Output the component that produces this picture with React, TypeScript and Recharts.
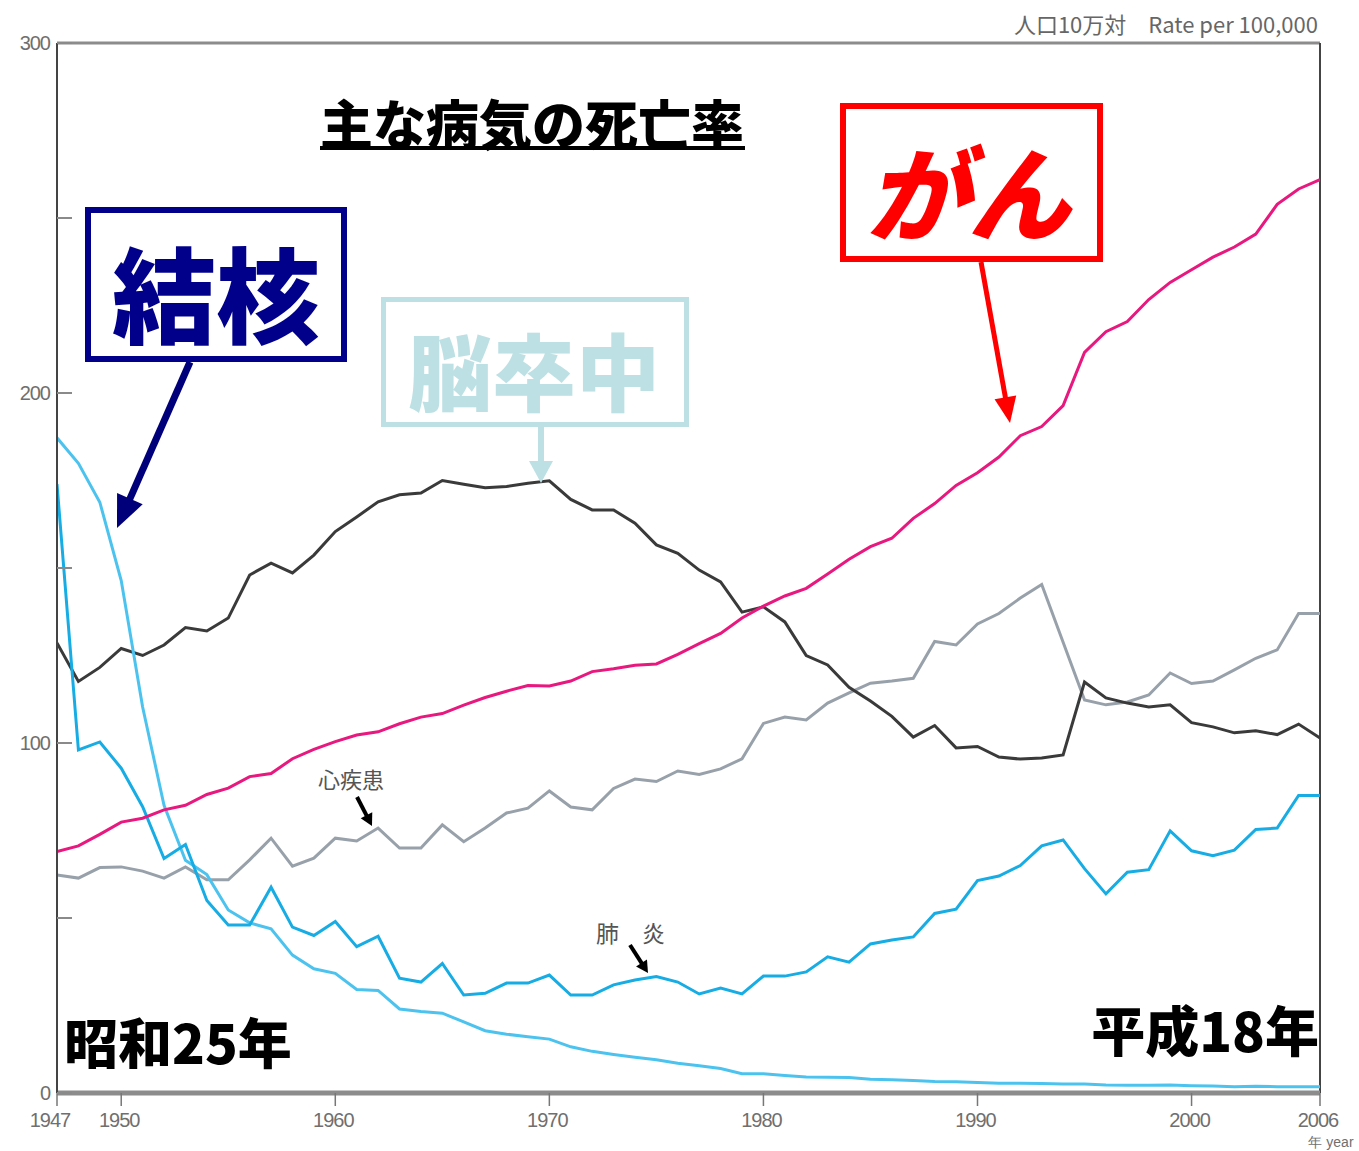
import React from 'react';
import { LineChart, Line, XAxis, YAxis, ReferenceLine } from 'recharts';

const years = [
  1947, 1948, 1949, 1950, 1951, 1952, 1953, 1954, 1955, 1956,
  1957, 1958, 1959, 1960, 1961, 1962, 1963, 1964, 1965, 1966,
  1967, 1968, 1969, 1970, 1971, 1972, 1973, 1974, 1975, 1976,
  1977, 1978, 1979, 1980, 1981, 1982, 1983, 1984, 1985, 1986,
  1987, 1988, 1989, 1990, 1991, 1992, 1993, 1994, 1995, 1996,
  1997, 1998, 1999, 2000, 2001, 2002, 2003, 2004, 2005, 2006,
];

// がん (cancer)
const cancer = [
  69.0, 70.6, 73.9, 77.4, 78.5, 80.9, 82.2, 85.3, 87.1, 90.4,
  91.3, 95.5, 98.2, 100.4, 102.3, 103.2, 105.5, 107.4, 108.4, 110.8,
  113.0, 114.8, 116.4, 116.3, 117.7, 120.4, 121.2, 122.2, 122.6, 125.3,
  128.4, 131.3, 135.7, 139.1, 142.0, 144.2, 148.3, 152.5, 156.1, 158.5,
  164.2, 168.4, 173.6, 177.2, 181.7, 187.8, 190.4, 196.4, 211.6, 217.5,
  220.4, 226.7, 231.6, 235.2, 238.8, 241.7, 245.4, 253.9, 258.3, 261.0,
];

// 脳卒中 (cerebrovascular)
const stroke = [
  128.6, 117.6, 121.6, 127.0, 125.0, 128.0, 133.0, 132.0, 135.7, 148.0,
  151.4, 148.6, 153.7, 160.4, 164.6, 168.9, 170.9, 171.4, 175.0, 173.9,
  172.9, 173.3, 174.2, 174.9, 169.6, 166.6, 166.6, 162.8, 156.6, 154.2,
  149.4, 146.0, 137.4, 138.9, 134.6, 125.0, 122.3, 115.9, 112.0, 107.6,
  101.7, 105.0, 98.6, 99.0, 96.0, 95.4, 95.7, 96.6, 117.4, 112.9,
  111.4, 110.3, 110.9, 105.8, 104.6, 102.9, 103.5, 102.4, 105.4, 101.4,
];

// 心疾患 (heart disease)
const heart = [
  62.3, 61.4, 64.4, 64.6, 63.4, 61.4, 64.6, 60.9, 60.9, 66.6,
  72.8, 64.8, 67.1, 72.8, 72.0, 75.7, 70.0, 70.0, 76.6, 71.8,
  75.7, 80.0, 81.4, 86.3, 81.7, 80.9, 87.0, 89.7, 89.0, 92.0,
  91.0, 92.6, 95.5, 105.6, 107.4, 106.6, 111.4, 114.3, 117.1, 117.7,
  118.5, 129.0, 128.0, 134.0, 137.0, 141.4, 145.3, 128.8, 112.3, 110.9,
  111.7, 113.7, 120.0, 117.0, 117.7, 120.9, 124.2, 126.6, 137.0, 137.0,
];

// 結核 (tuberculosis)
const tb = [
  187.2, 179.9, 168.8, 146.4, 110.3, 82.2, 66.5, 62.4, 52.3, 48.6,
  46.9, 39.4, 35.5, 34.2, 29.6, 29.3, 24.0, 23.3, 22.8, 20.3,
  17.8, 16.8, 16.1, 15.4, 13.2, 11.9, 11.0, 10.2, 9.5, 8.5,
  7.8, 7.0, 5.5, 5.5, 5.0, 4.6, 4.5, 4.4, 3.9, 3.8,
  3.6, 3.3, 3.2, 3.0, 2.8, 2.8, 2.7, 2.6, 2.6, 2.3,
  2.2, 2.2, 2.3, 2.1, 2.0, 1.8, 1.9, 1.8, 1.8, 1.8,
];

// 肺炎 (pneumonia)
const pneumonia = [
  174.0, 98.0, 100.3, 92.8, 81.8, 67.0, 71.0, 55.0, 48.0, 48.0,
  58.8, 47.4, 45.0, 49.0, 41.8, 44.8, 32.8, 31.7, 37.0, 28.0,
  28.5, 31.4, 31.4, 33.7, 28.0, 28.0, 30.9, 32.3, 33.3, 31.7,
  28.3, 30.0, 28.3, 33.4, 33.4, 34.6, 38.9, 37.4, 42.6, 43.7,
  44.6, 51.3, 52.5, 60.7, 62.0, 65.0, 70.6, 72.3, 64.1, 56.9,
  63.1, 63.8, 74.9, 69.2, 67.8, 69.4, 75.3, 75.7, 85.0, 85.0,
];

const xTicks = [1947, 1950, 1960, 1970, 1980, 1990, 2000, 2006];
const yTicks = [0, 50, 100, 150, 200, 250, 300];
const yLabelled = [0, 100, 200, 300];

const data = years.map((year, i) => ({
  year,
  cancer: cancer[i],
  stroke: stroke[i],
  heart: heart[i],
  tb: tb[i],
  pneumonia: pneumonia[i],
}));

const W = 1359;
const H = 1151;
const MARGIN = { top: 43, right: 39, bottom: 0, left: 0 };
const Y_AXIS_W = 57;
const X_AXIS_H = 58;
const PLOT_LEFT = MARGIN.left + Y_AXIS_W;

const latin = "'Liberation Sans', Arial, sans-serif";
const heavy = "'Noto Sans CJK JP', 'Noto Sans CJK SC', sans-serif";

const YTick = (props: any) => {
  const { y, payload } = props;
  const v = payload.value;
  return (
    <g>
      <line x1={PLOT_LEFT} x2={PLOT_LEFT + 15} y1={y} y2={y} stroke="#8a8a8a" strokeWidth={2} />
      {yLabelled.includes(v) ? (
        <text x={PLOT_LEFT - 7} y={y} dy={7} textAnchor="end" fontSize={20} fill="#6f6f6f" fontFamily={latin} letterSpacing={-1}>
          {v}
        </text>
      ) : null}
    </g>
  );
};

const XTick = (props: any) => {
  const { x, y, payload } = props;
  const v = payload.value;
  return (
    <g>
      <text x={v === 1947 ? x - 7 : x - 2} y={y} dy={19} textAnchor="middle" fontSize={20} fill="#6f6f6f" fontFamily={latin} letterSpacing={-1}>
        {v}
      </text>
      {v === 2006 ? (
        <text x={x + 11} y={y} dy={39} textAnchor="middle" fontSize={14} fill="#6f6f6f" fontFamily={latin}>
          年 year
        </text>
      ) : null}
    </g>
  );
};

const Arrow = ({ x1, y1, x2, y2, color, width, headLen, headW }: any) => {
  const dx = x2 - x1;
  const dy = y2 - y1;
  const len = Math.sqrt(dx * dx + dy * dy);
  const ux = dx / len;
  const uy = dy / len;
  const bx = x2 - ux * headLen;
  const by = y2 - uy * headLen;
  const px = -uy;
  const py = ux;
  const pts = `${x2},${y2} ${bx + px * headW / 2},${by + py * headW / 2} ${bx - px * headW / 2},${by - py * headW / 2}`;
  return (
    <g>
      <line x1={x1} y1={y1} x2={bx + ux * 2} y2={by + uy * 2} stroke={color} strokeWidth={width} />
      <polygon points={pts} fill={color} />
    </g>
  );
};

const Overlay = () => (
  <svg width={W} height={H} style={{ position: 'absolute', left: 0, top: 0, pointerEvents: 'none' }}>
    {/* top-right unit */}
    <text x={1318} y={33} textAnchor="end" fontSize={22} fill="#666" fontFamily={`${heavy}`}>
      人口10万対　Rate per 100,000
    </text>

    {/* title */}
    <text x={532} y={145} textAnchor="middle" fontSize={53} fontWeight={900} fill="#000" fontFamily={heavy}>
      主な病気の死亡率
    </text>
    <rect x={320} y={146} width={425} height={4} fill="#000" />

    {/* 結核 */}
    <rect x={88} y={210} width={256} height={149} fill="none" stroke="#00008B" strokeWidth={6} />
    <text x={216} y={290} textAnchor="middle" dominantBaseline="central" fontSize={104} fontWeight={900} fill="#00008B" fontFamily={heavy}>
      結核
    </text>
    <Arrow x1={190} y1={362} x2={117} y2={528} color="#00007A" width={7} headLen={32} headW={28} />

    {/* 脳卒中 */}
    <rect x={383.5} y={299.5} width={303} height={125} fill="none" stroke="#BCE0E3" strokeWidth={5} />
    <text x={534} y={368} textAnchor="middle" dominantBaseline="central" fontSize={84} fontWeight={900} fill="#BCE0E3" fontFamily={heavy}>
      脳卒中
    </text>
    <Arrow x1={541} y1={427} x2={541} y2={483} color="#BCE0E3" width={6} headLen={22} headW={24} />

    {/* がん */}
    <rect x={843} y={106} width={257} height={153} fill="none" stroke="#FF0000" strokeWidth={6} />
    <text x={968} y={188} textAnchor="middle" dominantBaseline="central" fontSize={102} fontWeight={900} fill="#FF0000" fontFamily={heavy} fontStyle="italic">
      がん
    </text>
    <Arrow x1={981} y1={262} x2={1010} y2={423} color="#FF0000" width={5} headLen={26} headW={22} />

    {/* 心疾患 */}
    <text x={318} y={788} fontSize={22} fill="#555" fontFamily={heavy}>
      心疾患
    </text>
    <Arrow x1={357} y1={797} x2={372} y2={826} color="#000" width={4} headLen={12} headW={13} />

    {/* 肺炎 */}
    <text x={596} y={942} fontSize={23} fill="#555" fontFamily={heavy}>
      肺　炎
    </text>
    <Arrow x1={630} y1={945} x2={648} y2={973} color="#000" width={4} headLen={12} headW={13} />

    {/* era labels */}
    <text x={64} y={1064} fontSize={54} fontWeight={900} fill="#000" fontFamily={heavy}>
      昭和25年
    </text>
    <text x={1319} y={1052} textAnchor="end" fontSize={54} fontWeight={900} fill="#000" fontFamily={heavy}>
      平成18年
    </text>
  </svg>
);

export default function App() {
  return (
    <div style={{ position: 'absolute', left: 0, top: 0, width: W, height: H, background: '#fff' }}>
      <LineChart width={W} height={H} data={data} margin={MARGIN}>
        <XAxis
          dataKey="year"
          type="number"
          domain={[1947, 2006]}
          ticks={xTicks}
          interval={0}
          height={X_AXIS_H}
          axisLine={{ stroke: '#8c8c8c', strokeWidth: 5 }}
          tickLine={{ stroke: '#777', strokeWidth: 1.5 }}
          tickSize={13}
          tickMargin={2}
          tick={<XTick />}
          allowDataOverflow
        />
        <YAxis
          type="number"
          domain={[0, 300]}
          ticks={yTicks}
          interval={0}
          width={Y_AXIS_W}
          axisLine={{ stroke: '#444', strokeWidth: 2 }}
          tickLine={false}
          tickSize={0}
          tickMargin={7}
          tick={<YTick />}
          allowDataOverflow
        />
        <ReferenceLine y={300} stroke="#8c8c8c" strokeWidth={3} />
        <ReferenceLine x={2006} stroke="#444" strokeWidth={2} />
        <Line dataKey="heart" type="linear" stroke="#98A1AA" strokeWidth={3} dot={false} activeDot={false} isAnimationActive={false} />
        <Line dataKey="stroke" type="linear" stroke="#3A3A3A" strokeWidth={3} dot={false} activeDot={false} isAnimationActive={false} />
        <Line dataKey="tb" type="linear" stroke="#4CC3EE" strokeWidth={3} dot={false} activeDot={false} isAnimationActive={false} />
        <Line dataKey="pneumonia" type="linear" stroke="#17ADE4" strokeWidth={3} dot={false} activeDot={false} isAnimationActive={false} />
        <Line dataKey="cancer" type="linear" stroke="#E8187F" strokeWidth={3} dot={false} activeDot={false} isAnimationActive={false} />
      </LineChart>
      <Overlay />
    </div>
  );
}
